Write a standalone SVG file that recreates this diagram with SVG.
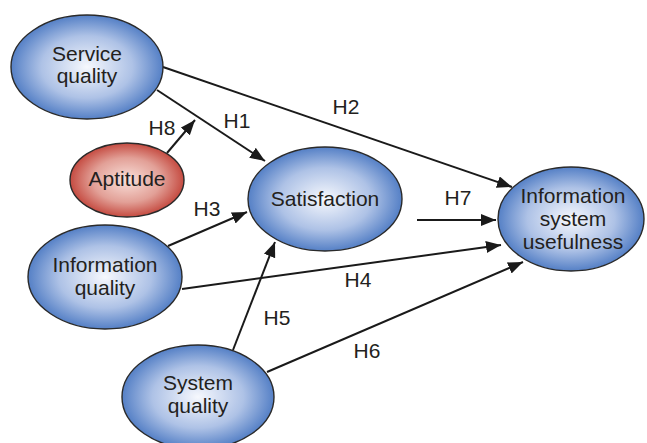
<svg xmlns="http://www.w3.org/2000/svg" width="647" height="443" viewBox="0 0 647 443">
<style>
.node{stroke:#2a2a2a;stroke-width:1.4}
.blue{fill:url(#gb)}
.red{fill:url(#gr)}
text{font-family:"Liberation Sans",Arial,sans-serif;font-size:21px;fill:#231f20;text-anchor:middle}
.edge{stroke:#1a1a1a;stroke-width:2;fill:none;marker-end:url(#ah)}
</style>
<defs>
<radialGradient id="gb" cx="50%" cy="50%" r="50%">
<stop offset="0" stop-color="#f6f8fd"/>
<stop offset="0.6" stop-color="#aec2e6"/>
<stop offset="1" stop-color="#5580c6"/>
</radialGradient>
<radialGradient id="gr" cx="50%" cy="50%" r="50%">
<stop offset="0" stop-color="#f9e0da"/>
<stop offset="0.6" stop-color="#e2a097"/>
<stop offset="1" stop-color="#c54b41"/>
</radialGradient>
<marker id="ah" markerUnits="userSpaceOnUse" markerWidth="16" markerHeight="14" refX="15" refY="6" orient="auto">
<path d="M0,0 L15,6 L0,12 z" fill="#1a1a1a"/>
</marker>
</defs>
<g id="connectors">
<line class="edge" x1="163" y1="67" x2="512" y2="187"/>
<line class="edge" x1="157" y1="90" x2="265" y2="161"/>
<line class="edge" x1="167" y1="153" x2="195" y2="120"/>
<line class="edge" x1="168" y1="246" x2="247" y2="212"/>
<line class="edge" x1="182" y1="289" x2="501" y2="245"/>
<line class="edge" x1="417" y1="220" x2="496" y2="220"/>
<line class="edge" x1="233" y1="350" x2="275" y2="242"/>
<line class="edge" x1="267" y1="372" x2="523" y2="262"/>
<text x="237" y="128">H1</text>
<text x="346" y="114">H2</text>
<text x="162" y="135">H8</text>
<text x="207" y="216">H3</text>
<text x="458" y="205">H7</text>
<text x="358" y="287">H4</text>
<text x="277" y="325">H5</text>
<text x="367" y="358">H6</text>
</g>
<g id="service-quality">
<ellipse class="node blue" cx="87" cy="67" rx="76" ry="52"/>
<text x="87" y="61">Service</text>
<text x="87" y="83">quality</text>
</g>
<g id="aptitude">
<ellipse class="node red" cx="127" cy="180" rx="57" ry="37"/>
<text x="127" y="186">Aptitude</text>
</g>
<g id="satisfaction">
<ellipse class="node blue" cx="325" cy="199" rx="77" ry="52"/>
<text x="325" y="206">Satisfaction</text>
</g>
<g id="information-system-usefulness">
<ellipse class="node blue" cx="571" cy="219" rx="73" ry="52"/>
<text x="573" y="203">Information</text>
<text x="573" y="226">system</text>
<text x="573" y="249">usefulness</text>
</g>
<g id="information-quality">
<ellipse class="node blue" cx="105" cy="277" rx="77" ry="52"/>
<text x="105" y="272">Information</text>
<text x="105" y="295">quality</text>
</g>
<g id="system-quality">
<ellipse class="node blue" cx="198" cy="397" rx="76" ry="52"/>
<text x="198" y="390">System</text>
<text x="198" y="413">quality</text>
</g>
</svg>
